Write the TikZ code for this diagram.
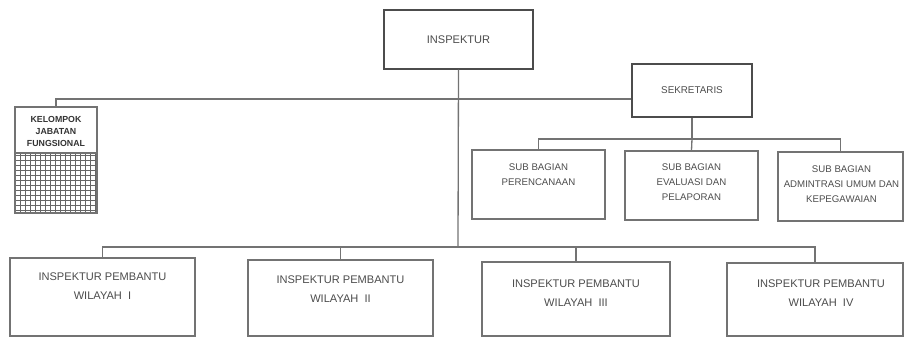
\documentclass[tikz,border=0pt]{standalone}
\usepackage{fontspec}
\setmainfont{Liberation Sans}
\usetikzlibrary{positioning,calc}

\begin{document}
\begin{tikzpicture}[x=0.02cm, y=-0.02cm,
    box/.style={draw=black!55, line width=0.75pt, inner sep=0pt},
    link/.style={draw=black!55, line width=0.75pt},
    maintxt/.style={black!70, align=center, font=\fontsize{6.3}{10.8}\selectfont},
    subtxt/.style={black!70, align=center, font=\fontsize{5.5}{8.5}\selectfont},
    kjftxt/.style={black!80, align=center, font=\bfseries\fontsize{5}{7}\selectfont}]
    \useasboundingbox (0, 0) rectangle (904, 338);
    \clip (0, 0) rectangle (904, 338);

    % Inspektur
    \node [box, maintxt, minimum width=2.98cm, minimum height=1.18cm] (insp) at (458.5, 39.5) {INSPEKTUR};
    % Sekretaris
    \node [box, subtxt, font=\fontsize{5.6}{7}\selectfont, minimum width=2.4cm, minimum height=1.06cm] (sek) at (692, 90.5) {SEKRETARIS};

    % Kelompok jabatan fungsional
    \node [box, minimum width=1.64cm, minimum height=2.12cm,
        label={[kjftxt, anchor=north, yshift=-2pt]north:{KELOMPOK\\JABATAN\\FUNGSIONAL}}] (kjf) at (56, 160) {};
    \draw [black!60, line width=0.5pt, step=0.1cm] (15, 153) grid (97, 213);
    \draw [link] (15, 153) rectangle (97, 213);

    % Sub bagian
    \node [box, minimum width=2.66cm, minimum height=1.38cm,
        label={[subtxt, anchor=north, yshift=-4.5pt]north:{SUB BAGIAN\\PERENCANAAN}}] (sb1) at (538.5, 184.5) {};
    \node [box, minimum width=2.66cm, minimum height=1.38cm,
        label={[subtxt, anchor=north, yshift=-4pt]north:{SUB BAGIAN\\EVALUASI DAN\\PELAPORAN}}] (sb2) at (691.5, 185.5) {};
    \node [box, minimum width=2.5cm, minimum height=1.38cm,
        label={[subtxt, anchor=north, yshift=-4.5pt, xshift=0.02cm]north:{SUB BAGIAN\\ADMINTRASI UMUM DAN\\KEPEGAWAIAN}}] (sb3) at (840.5, 186.5) {};

    % Inspektur pembantu
    \node [box, minimum width=3.7cm, minimum height=1.56cm,
        label={[maintxt, anchor=north, yshift=-5.5pt]north:{INSPEKTUR PEMBANTU\\WILAYAH \ I}}] (w1) at (102.5, 297) {};
    \node [box, minimum width=3.7cm, minimum height=1.52cm,
        label={[maintxt, anchor=north, yshift=-6pt]north:{INSPEKTUR PEMBANTU\\WILAYAH \ II}}] (w2) at (340.5, 298) {};
    \node [box, minimum width=3.76cm, minimum height=1.48cm,
        label={[maintxt, anchor=north, yshift=-7pt]north:{INSPEKTUR PEMBANTU\\WILAYAH \ III}}] (w3) at (576, 299) {};
    \node [box, minimum width=3.52cm, minimum height=1.46cm,
        label={[maintxt, anchor=north, yshift=-6.5pt, xshift=0.12cm]north:{INSPEKTUR PEMBANTU\\WILAYAH \ IV}}] (w4) at (815, 299.5) {};

    % Bus lines
    \coordinate (kbus) at (458, 99);
    \coordinate (sbus) at (692, 139);
    \coordinate (wbus) at (458, 247);

    \draw [link] (insp.south) -- (wbus);
    \draw [link] (kjf.north) |- (kbus) -- (kbus -| sek.west);
    \draw [link] (sek.south) -- (sbus);
    \draw [link] (sb1.north) |- (sbus) -| (sb3.north);
    \draw [link] (sbus) -- (sb2.north);
    \draw [link] (w1.north) |- (wbus) -| (w4.north);
    \draw [link] (w2.north) -- (w2.north |- wbus);
    \draw [link] (w3.north) -- (w3.north |- wbus);
\end{tikzpicture}
\end{document}
